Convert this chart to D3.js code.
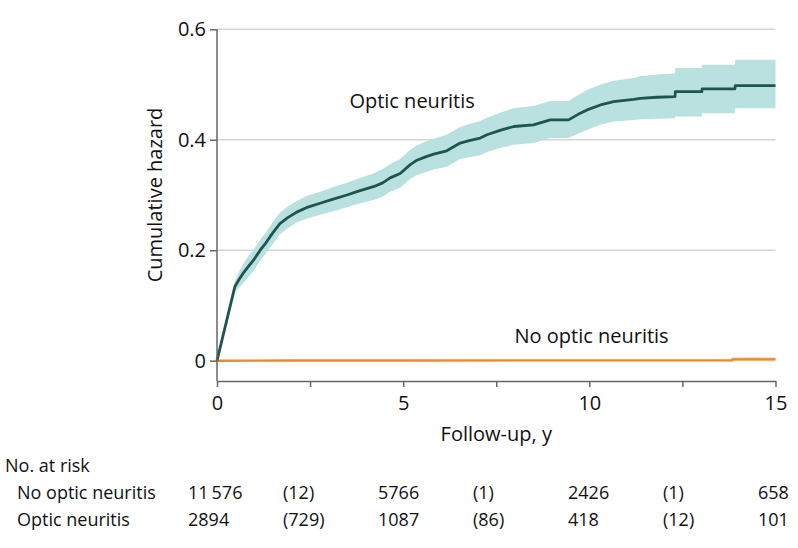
<!DOCTYPE html>
<html>
<head>
<meta charset="utf-8">
<script src="https://cdn.jsdelivr.net/npm/d3@7"></script>
<style>
  html, body { margin: 0; padding: 0; background: #fff; }
  svg { display: block; font-family: "Open Sans", "Noto Sans", sans-serif; }
</style>
</head>
<body>
<svg id="chart" width="798" height="548"></svg>
<script>
// ---- Data ----
const timeON  = [0,0.48,0.6,0.71,0.85,0.98,1.08,1.16,1.3,1.43,1.55,1.69,1.9,2.14,2.4,2.77,3.1,3.49,3.8,4.2,4.45,4.65,4.92,5.19,5.37,5.6,5.82,6.17,6.53,6.8,7.07,7.25,7.6,7.97,8.5,8.95,9.44,9.7,9.94,10.3,10.65,11.19,11.37,11.82,12.3,12.31,13.02,13.03,13.91,13.92,15];
const hazardON = [0,0.134,0.148,0.159,0.171,0.182,0.192,0.200,0.212,0.225,0.236,0.248,0.259,0.269,0.277,0.285,0.292,0.300,0.307,0.315,0.322,0.331,0.339,0.355,0.363,0.369,0.374,0.380,0.394,0.399,0.403,0.409,0.417,0.424,0.427,0.436,0.436,0.446,0.454,0.463,0.469,0.473,0.475,0.477,0.478,0.487,0.487,0.492,0.492,0.498,0.498];
const lowerON = [0,0.125,0.133,0.141,0.152,0.163,0.173,0.181,0.193,0.206,0.216,0.229,0.240,0.250,0.257,0.264,0.270,0.278,0.284,0.291,0.297,0.306,0.313,0.329,0.336,0.341,0.346,0.351,0.365,0.369,0.372,0.378,0.385,0.391,0.394,0.403,0.403,0.411,0.418,0.427,0.433,0.436,0.437,0.438,0.439,0.442,0.442,0.448,0.448,0.457,0.457];
const upperON = [0,0.144,0.162,0.176,0.190,0.201,0.211,0.219,0.231,0.244,0.256,0.268,0.279,0.289,0.298,0.306,0.314,0.322,0.330,0.339,0.347,0.356,0.365,0.382,0.390,0.397,0.402,0.409,0.423,0.429,0.434,0.440,0.449,0.457,0.461,0.470,0.470,0.481,0.490,0.500,0.507,0.512,0.515,0.518,0.520,0.530,0.530,0.536,0.536,0.545,0.545];

const timeNo   = [0,2,5,8,10,13.83,13.84,15];
const hazardNo = [0,0.0002,0.0004,0.0005,0.0006,0.0008,0.0024,0.0024];
const lowerNo  = [0,0.0001,0.0003,0.0004,0.0005,0.0006,0.0000,0.0000];
const upperNo  = [0,0.0003,0.0005,0.0006,0.0007,0.0010,0.0060,0.0060];

const xTicks = [0,2.5,5,7.5,10,12.5,15];
const xTickLabels = ["0","","5","","10","","15"];
const yTicks = [0,0.2,0.4,0.6];
const yTickLabels = ["0","0.2","0.4","0.6"];

const riskTimes = [0,2.5,5,7.5,10,12.5,15];
const riskGroups = ["No optic neuritis","Optic neuritis"];
const riskNo = ["11\u2009576","(12)","5766","(1)","2426","(1)","658"];
const riskON = ["2894","(729)","1087","(86)","418","(12)","101"];

// ---- Layout ----
const svg = d3.select("#chart");
const x = d3.scaleLinear().domain([0,15]).range([217,775.5]);
const y = d3.scaleLinear().domain([-0.0368,0.6]).range([381,29.3]);
const tableX = d3.scaleLinear().domain([0,15]).range([188,758]);

const colLine = "#1f5450", colBand = "#b8e1e0";
const colOrange = "#f6861f", colPink = "#f9c9c3";

// gridlines
svg.append("g").selectAll("line").data(yTicks.filter(d=>d>0)).join("line")
  .attr("x1", x(0)).attr("x2", x(15))
  .attr("y1", d=>y(d)).attr("y2", d=>y(d))
  .attr("stroke", "#d6d6d6").attr("stroke-width", 1.5);

const ptsON = timeON.map((t,i)=>({t, h:hazardON[i], lo:lowerON[i], hi:upperON[i]}));
const ptsNo = timeNo.map((t,i)=>({t, h:hazardNo[i], lo:lowerNo[i], hi:upperNo[i]}));

const area = d3.area().x(d=>x(d.t)).y0(d=>y(d.lo)).y1(d=>y(d.hi));
const line = d3.line().x(d=>x(d.t)).y(d=>y(d.h));

svg.append("path").datum(ptsON).attr("d", area).attr("fill", colBand);
svg.append("path").datum(ptsNo).attr("d", area).attr("fill", colPink);
svg.append("path").datum(ptsNo).attr("d", line).attr("fill","none")
  .attr("stroke", colOrange).attr("stroke-width", 2.4);
svg.append("path").datum(ptsON).attr("d", line).attr("fill","none")
  .attr("stroke", colLine).attr("stroke-width", 2.8).attr("stroke-linejoin","round");

// axes
const xAxis = d3.axisBottom(x).tickValues(xTicks)
  .tickFormat((d,i)=>xTickLabels[i]).tickSize(6).tickPadding(9).tickSizeOuter(0);
const gx = svg.append("g").attr("transform", `translate(0,${y.range()[0]})`).call(xAxis);
const yAxis = d3.axisLeft(y).tickValues(yTicks)
  .tickFormat((d,i)=>yTickLabels[i]).tickSize(7).tickPadding(4).tickSizeOuter(0);
const gy = svg.append("g").attr("transform", `translate(${x(0)},0)`).call(yAxis);
gy.select(".domain").attr("d", `M0,${y(0.6)}V${y.range()[0]}`);
[gx, gy].forEach(g => {
  g.select(".domain").attr("stroke", "#666").attr("stroke-width", 1.5);
  g.selectAll(".tick line").attr("stroke", "#666").attr("stroke-width", 1.5);
  g.selectAll(".tick text").attr("fill", "#111").attr("font-size", 20)
    .attr("font-family", "'Open Sans', sans-serif");
});

// axis titles
svg.append("text").attr("transform", `translate(162,${(y(0)+y(0.6))/2}) rotate(-90)`)
  .attr("text-anchor","middle").attr("font-size", 20).attr("fill","#111")
  .text("Cumulative hazard");
svg.append("text").attr("x", x(7.5)).attr("y", 441)
  .attr("text-anchor","middle").attr("font-size", 20).attr("fill","#111")
  .text("Follow-up, y");

// curve labels
svg.append("text").attr("x", x(5.24)).attr("y", y(0.458))
  .attr("text-anchor","middle").attr("font-size", 20).attr("fill","#111")
  .text("Optic neuritis");
svg.append("text").attr("x", x(10.06)).attr("y", y(0.032))
  .attr("text-anchor","middle").attr("font-size", 20).attr("fill","#111")
  .text("No optic neuritis");

// risk table
const tbl = svg.append("g").attr("font-size", 18).attr("fill", "#111");
tbl.append("text").attr("x", 5).attr("y", 472).text("No. at risk");
const rows = [riskNo, riskON];
rows.forEach((vals, r) => {
  const yy = 499 + r*27;
  tbl.append("text").attr("x", 17).attr("y", yy).text(riskGroups[r]);
  tbl.selectAll(null).data(vals).join("text")
    .attr("x", (d,i)=>tableX(riskTimes[i])).attr("y", yy).text(d=>d);
});
</script>
</body>
</html>
